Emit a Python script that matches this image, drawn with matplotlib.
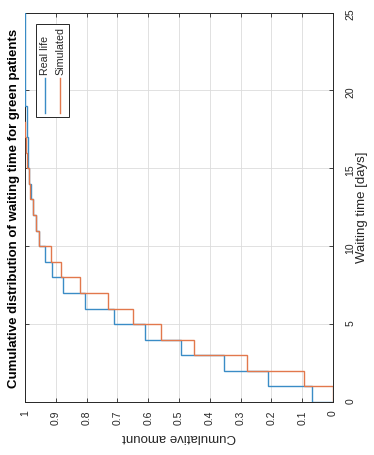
import numpy as np
import matplotlib
matplotlib.use("Agg")
import matplotlib.pyplot as plt
from matplotlib.patches import Rectangle
from matplotlib.lines import Line2D

plt.rcParams['font.family'] = ['Liberation Sans', 'DejaVu Sans']

# Cumulative share of green patients served by the end of each day (day 0, 1, 2, ...)
real_life = [0.068, 0.211, 0.353, 0.493, 0.609, 0.710, 0.806, 0.878, 0.912, 0.936,
             0.955, 0.965, 0.974, 0.982, 0.988, 0.990, 0.991, 0.992, 0.992, 1.0,
             1.0, 1.0, 1.0, 1.0, 1.0]
simulated = [0.0, 0.095, 0.280, 0.451, 0.558, 0.648, 0.730, 0.820, 0.882, 0.915,
             0.955, 0.965, 0.975, 0.983, 0.988, 0.994, 0.997, 1.0]

series_names = ["Real life", "Simulated"]
amount_ticks = [0, 0.1, 0.2, 0.3, 0.4, 0.5, 0.6, 0.7, 0.8, 0.9, 1]
amount_labels = ["0", "0.1", "0.2", "0.3", "0.4", "0.5", "0.6", "0.7", "0.8", "0.9", "1"]
day_ticks = [0, 5, 10, 15, 20, 25]

BLUE = "#3a8cc6"
ORANGE = "#e2784c"
INK = "#262626"


def stair_path(values):
    """Staircase with waiting time along y and cumulative amount along x."""
    v = np.asarray(values, dtype=float)
    d = np.arange(len(v))
    x = np.concatenate([[0.0], np.repeat(v, 2)])
    y = np.concatenate([[0.0], np.column_stack([d, d + 1]).ravel()])
    return x, y


fig = plt.figure(figsize=(3.74, 4.55), dpi=100)
ax = fig.add_axes([25 / 374, 1 - 402 / 455, 308 / 374, 389.5 / 455])

for vals, col in ((real_life, BLUE), (simulated, ORANGE)):
    xs, ys = stair_path(vals)
    ax.plot(xs, ys, color=col, lw=1.0, solid_joinstyle='miter', zorder=3)

ax.set_xlim(1, 0)
ax.set_ylim(0, 25)
ax.set_xticks(amount_ticks)
ax.set_xticklabels(amount_labels)
ax.set_yticks(day_ticks)

ax.grid(True, color="#dcdcdc", lw=0.6)
ax.set_axisbelow(True)
for s in ax.spines.values():
    s.set_color(INK)
    s.set_linewidth(0.7)

ax.tick_params(which='both', direction='in', length=3, width=0.6, color=INK,
               top=True, bottom=True, left=True, right=True,
               labelleft=False, labelright=True, labelbottom=True,
               labelsize=7.5, labelcolor=INK)
ax.tick_params(axis='x', labelrotation=90, pad=6)
ax.tick_params(axis='y', labelrotation=90, pad=9)

ax.set_xlabel("Cumulative amount", fontsize=9.5, color=INK, rotation=180)
ax.xaxis.label.set_va('center')
ax.xaxis.label.set_ha('center')
ax.xaxis.set_label_coords(0.5, -0.09)

ax.yaxis.set_label_position('right')
ax.set_ylabel("Waiting time [days]", fontsize=9.5, color=INK, rotation=90)
ax.yaxis.label.set_va('center')
ax.yaxis.label.set_ha('center')
ax.yaxis.set_label_coords(1.093, 0.5)

ax.text(-0.036, 0.497, "Cumulative distribution of waiting time for green patients",
        transform=ax.transAxes, rotation=90, ha='center', va='center',
        fontsize=9.5, fontweight='bold', color='black')

# Legend box drawn in axes coordinates
ax.add_patch(Rectangle((0.0357, 0.7317), 0.1072, 0.2388, transform=ax.transAxes,
                       facecolor='white', edgecolor=INK, lw=0.7, zorder=5))
for xc, name, col in ((0.0649, series_names[0], BLUE), (0.1136, series_names[1], ORANGE)):
    ax.add_line(Line2D([xc, xc], [0.742, 0.832], transform=ax.transAxes,
                       color=col, lw=1.0, zorder=6))
    ax.text(xc, 0.8395, name, transform=ax.transAxes, rotation=90,
            ha='center', va='bottom', fontsize=7.7, color=INK, zorder=6)

fig.savefig("out.png", dpi=100)
